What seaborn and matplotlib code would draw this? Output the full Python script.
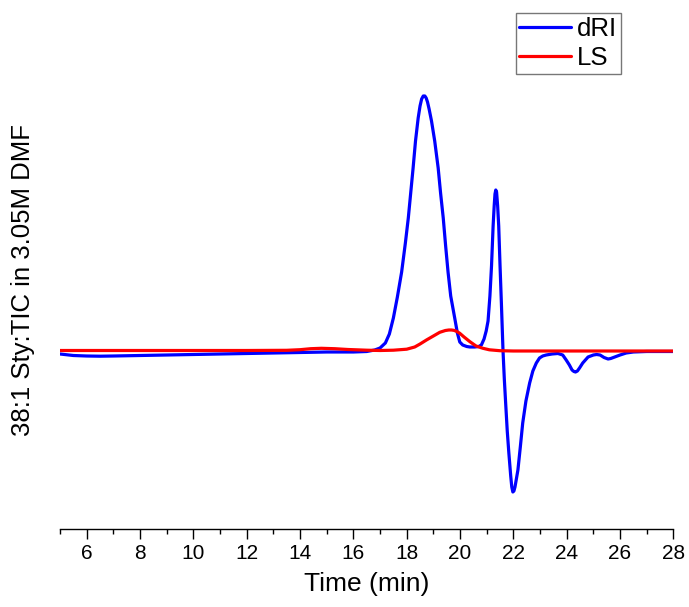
import pandas as pd
import numpy as np
import matplotlib
matplotlib.use("Agg")
import matplotlib.pyplot as plt
import seaborn as sns
from matplotlib.ticker import MultipleLocator

# dRI trace (time in min, signal in arbitrary units)
dri_time = [5.0, 5.5, 6.0, 6.5, 7.0, 8.0, 9.0, 10.0, 11.0, 12.0, 13.0, 14.0, 15.0, 16.0,
            16.5, 16.8, 17.0, 17.2, 17.35, 17.5, 17.65, 17.81, 17.95, 18.06, 18.15, 18.24,
            18.33, 18.43, 18.5, 18.56, 18.62, 18.68, 18.73, 18.78, 18.84, 18.93, 19.05,
            19.18, 19.27, 19.37, 19.46, 19.55, 19.65, 19.8, 19.9, 19.99, 20.1, 20.25, 20.37,
            20.55, 20.7, 20.8, 20.9, 20.98, 21.05, 21.12, 21.18, 21.24, 21.28, 21.31, 21.34,
            21.37, 21.41, 21.45, 21.5, 21.55, 21.61, 21.66, 21.71, 21.77, 21.83, 21.9,
            21.94, 21.98, 22.02, 22.06, 22.17, 22.26, 22.35, 22.47, 22.61, 22.73, 22.86,
            22.98, 23.1, 23.23, 23.45, 23.67, 23.85, 23.98, 24.1, 24.2, 24.27, 24.33, 24.4,
            24.48, 24.6, 24.8, 25.0, 25.12, 25.25, 25.4, 25.55, 25.65, 25.8, 26.0, 26.23,
            26.5, 27.0, 28.0]
dri_signal = [-3, -4.5, -5, -5.2, -5, -4.5, -4, -3.5, -3, -2.5, -2, -1.5, -1, -1,
              -0.5, 1, 3, 8, 17, 33, 54, 79, 108, 133, 158, 183,
              210, 233, 245, 252, 255, 255, 253, 249, 242, 230, 210,
              183, 158, 133, 105, 79, 55, 33, 18, 9, 6, 4.5, 4,
              4, 4.5, 6, 12, 20, 30, 55, 85, 125, 145, 157, 161,
              159, 145, 125, 85, 48, 1, -28, -52, -80, -102, -125,
              -136, -141, -140, -136, -119, -96, -72, -50, -32, -20, -12,
              -7, -5, -4, -3, -2.5, -4, -9, -14, -19, -20.5, -21, -20,
              -17, -12, -6, -4, -3.5, -4, -6.5, -8, -7.5, -6, -4, -2,
              -1, -0.5, -0.5]

# LS trace
ls_time = [5.0, 6.0, 8.0, 10.0, 12.0, 13.5, 14.0, 14.4, 14.8, 15.3, 15.8, 16.5, 17.0,
           17.5, 18.0, 18.3, 18.5, 18.74, 19.0, 19.24, 19.45, 19.58, 19.68, 19.78, 19.88,
           19.99, 20.15, 20.37, 20.6, 20.86, 21.1, 21.49, 22.0, 24.0, 26.0, 28.0]
ls_signal = [0.5, 0.5, 0.5, 0.5, 0.5, 0.7, 1.3, 2.3, 2.7, 2.3, 1.5, 0.8, 0.5,
             0.8, 1.8, 4, 7, 11, 15, 18.7, 20.5, 21, 21, 20.6, 19.5,
             17.7, 14, 9.3, 5, 2.7, 1.2, 0.3, 0, 0, 0, 0]

df = pd.concat([
    pd.DataFrame({"time": dri_time, "signal": dri_signal, "trace": "dRI"}),
    pd.DataFrame({"time": ls_time, "signal": ls_signal, "trace": "LS"}),
], ignore_index=True)

sns.set_style("white")
plt.rcParams["font.family"] = ["Liberation Sans", "DejaVu Sans"]
plt.rcParams["text.color"] = "black"
plt.rcParams["axes.labelcolor"] = "black"
plt.rcParams["xtick.color"] = "black"

fig = plt.figure(figsize=(6.89, 6.07), dpi=100)
ax = fig.add_axes([60 / 689, 1 - 529 / 607, (673.4 - 60) / 689, (529 - 10) / 607])

sns.lineplot(data=df, x="time", y="signal", hue="trace",
             palette={"dRI": "#0000ff", "LS": "#ff0000"},
             estimator=None, sort=False, linewidth=2.3, ax=ax)

ax.set_xlim(5, 28)
ax.set_ylim(-178, 341)
ax.xaxis.set_major_locator(MultipleLocator(2))
ax.xaxis.set_minor_locator(MultipleLocator(1))
ax.tick_params(axis="x", which="major", direction="out", length=7, width=1,
               labelsize=15, bottom=True, pad=4)
ax.tick_params(axis="x", which="minor", direction="out", length=3.5, width=1, bottom=True)
ax.set_yticks([])

for side in ["left", "right", "top"]:
    ax.spines[side].set_visible(False)
ax.spines["bottom"].set_linewidth(1)
ax.spines["bottom"].set_color("black")

ax.set_xlabel("Time (min)", fontsize=19, labelpad=6)
ax.set_ylabel("38:1 Sty:TIC in 3.05M DMF", fontsize=18.5)
ax.yaxis.set_label_coords(-0.040, 0.479)

leg = ax.legend(loc="upper right", bbox_to_anchor=(0.915, 0.994), fontsize=18.5,
                frameon=True, fancybox=False, handlelength=2.0, handletextpad=0.25,
                borderpad=0.15, labelspacing=0.2, borderaxespad=0)
leg.get_frame().set_edgecolor("#555555")
leg.get_frame().set_linewidth(1)
for line in leg.get_lines():
    line.set_linewidth(2.3)

fig.savefig("out.png", dpi=100)
